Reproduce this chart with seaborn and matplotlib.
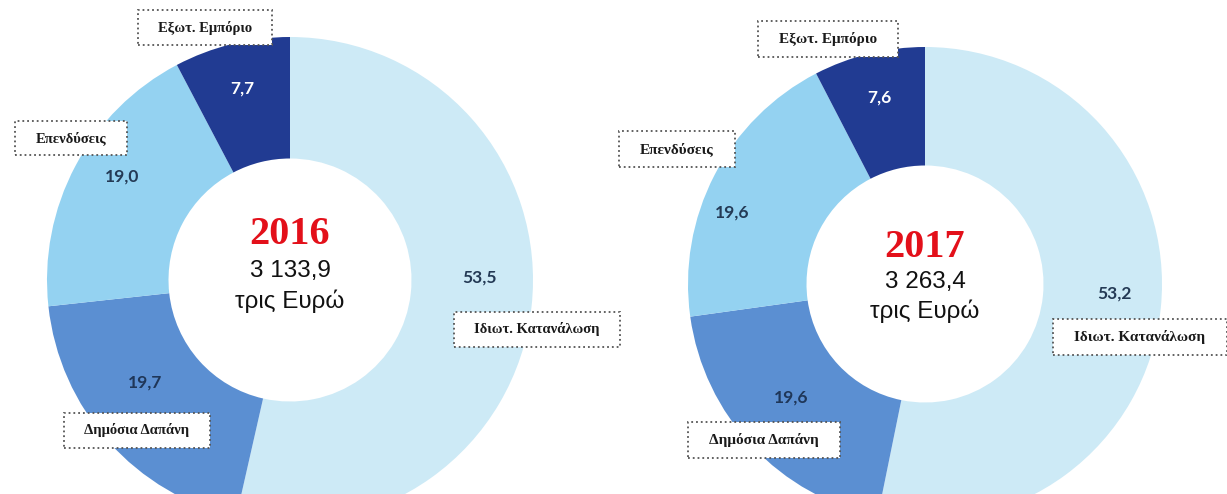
import numpy as np
import matplotlib
matplotlib.use("Agg")
import matplotlib.pyplot as plt
from matplotlib.path import Path
import seaborn as sns

# Data
categories = ["Ιδιωτ. Κατανάλωση", "Δημόσια Δαπάνη", "Επενδύσεις", "Εξωτ. Εμπόριο"]
shares_2016 = [53.5, 19.7, 19.0, 7.7]
shares_2017 = [53.2, 19.6, 19.6, 7.6]
years = ["2016", "2017"]
totals = ["3 133,9", "3 263,4"]
unit = "τρις Ευρώ"

colors = ["#cdeaf6", "#5b8fd2", "#94d2f1", "#213b92"]
value_colors = ["#243a55", "#1f3658", "#243a55", "white"]

sns.set_theme(style="white")
plt.rcParams["font.family"] = ["Liberation Sans", "DejaVu Sans"]

W, H = 1227, 494
fig = plt.figure(figsize=(W / 100, H / 100), dpi=100)
fig.patch.set_facecolor("white")


def fx(x):
    return x / W


def fy(y):
    return 1 - y / H


def wide_box(x0, y0, width, height, mutation_size):
    # dotted label frame, wider than tall padding
    px = 1.4 * mutation_size
    py = 0.72 * mutation_size
    x0, y0 = x0 - px, y0 - py
    x1, y1 = x0 + width + 2 * px, y0 + height + 2 * py
    return Path([(x0, y0), (x1, y0), (x1, y1), (x0, y1), (x0, y0)], closed=True)


# donut geometry in pixels: centre x, centre y, radius
donuts = [(290, 280, 243), (925, 284, 237)]
# where to put the category boxes, pixels
box_pos = [
    [(537, 329), (137, 430), (71, 138), (205, 28)],
    [(1140, 337), (764, 440), (677, 149), (828, 39)],
]
box_size = [10.5, 11]
# value label placement: radial distance and angle nudge per wedge
val_r = [[0.78, 0.73, 0.81, 0.81], [0.80, 0.74, 0.87, 0.81]]
val_da = [[7, -6.5, -3.7, 0], [3, -3, 7, 0]]
# centre text heights (axes units)
centre_y = [(0.187, 0.037, -0.088), (0.153, 0.008, -0.114)]

for i, shares in enumerate([shares_2016, shares_2017]):
    cx, cy, r = donuts[i]
    ax = fig.add_axes([fx(cx - r), fy(cy + r), 2 * r / W, 2 * r / H])
    wedges, _ = ax.pie(
        shares,
        colors=colors,
        startangle=90,
        counterclock=False,
        radius=1,
        wedgeprops=dict(width=0.5, edgecolor="none"),
    )
    ax.set_xlim(-1, 1)
    ax.set_ylim(-1, 1)
    ax.set_aspect("equal")
    ax.axis("off")

    for j, w in enumerate(wedges):
        ang = np.deg2rad((w.theta1 + w.theta2) / 2 + val_da[i][j])
        d = val_r[i][j]
        ax.text(d * np.cos(ang), d * np.sin(ang),
                f"{shares[j]:.1f}".replace(".", ","),
                ha="center", va="center", fontsize=12.5, fontweight="bold",
                family="Lato", color=value_colors[j])

    y1, y2, y3 = centre_y[i]
    ax.text(0, y1, years[i], ha="center", va="center", fontsize=29,
            fontweight="bold", color="#e3101a", family="Liberation Serif")
    ax.text(0, y2, totals[i], ha="center", va="center", fontsize=17.5,
            color="#111111")
    ax.text(0, y3, unit, ha="center", va="center", fontsize=17.5,
            color="#111111")

    for j, cat in enumerate(categories):
        bx, by = box_pos[i][j]
        fig.text(fx(bx), fy(by), cat, ha="center", va="center",
                 fontsize=box_size[i], fontweight="bold",
                 family="Liberation Serif", color="#1a1a1a",
                 bbox=dict(boxstyle=wide_box, fc="white",
                           ec="#555555", ls=":", lw=1.3))

fig.savefig("out.png", dpi=100, facecolor="white")
